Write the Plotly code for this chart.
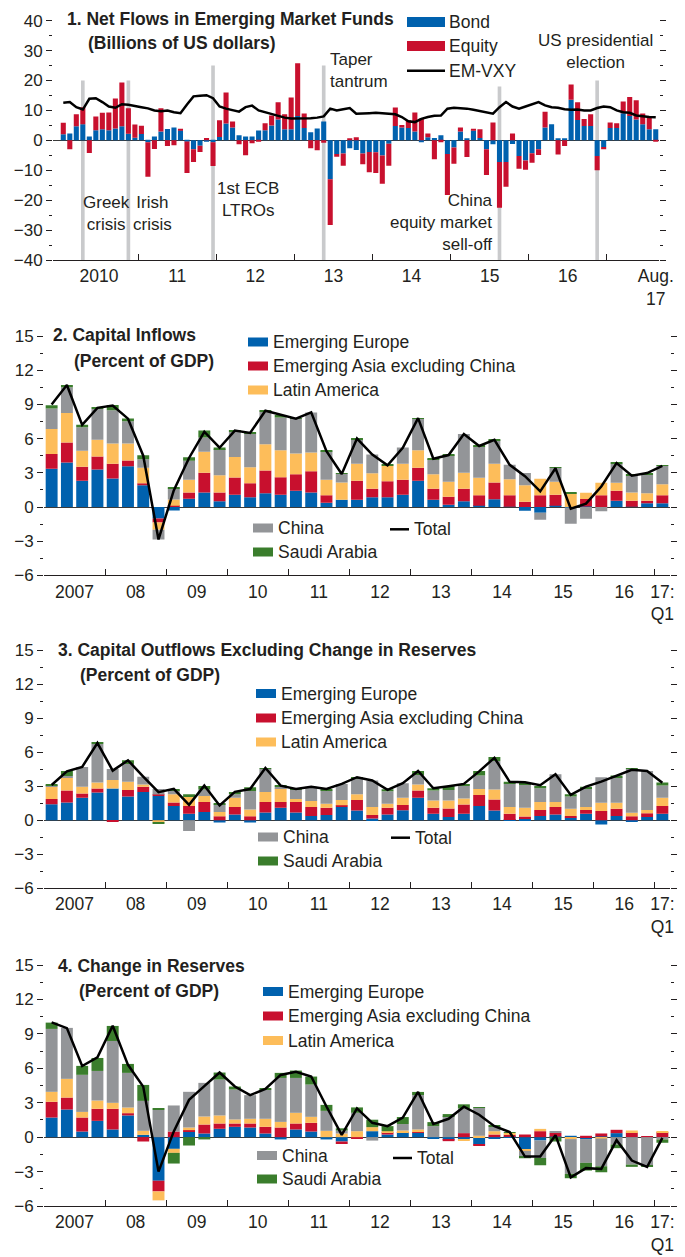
import numpy as np
import pandas as pd
import plotly.graph_objects as go

# ---------------- panel 1: monthly net flows, Jan 2010 - Aug 2017 (billions of US dollars)
months = pd.period_range('2010-01', '2017-08', freq='M')
bond = [2.0, 2.3, 4.7, 5.4, 1.3, 3.4, 3.7, 3.4, 4.0, 4.7, 2.2, 0.9,
        2.1, -0.6, 1.3, 3.0, 3.8, 4.3, 3.4, -0.4, -3.0, -1.8, -0.3, -0.6,
        1.1, 5.6, 4.3, 1.7, 1.3, 1.3, 3.3, 3.4, 5.0, 7.0, 3.7, 3.7,
        8.1, 4.1, 2.7, 4.0, 6.3, -13.0, -4.6, -4.4, -2.6, -3.2, -4.4, -3.9,
        -4.0, -5.1, -1.1, 4.8, 4.3, 4.1, 3.0, -0.6, 1.0, 0.8, 1.7, -4.6,
        -2.4, 3.0, 0.7, 3.3, 0.8, -3.0, -1.3, -7.2, -7.2, -1.2, -5.2, -6.7,
        -4.3, -3.0, 4.3, 5.4, 0.7, 0.7, 13.6, 6.8, 4.8, 4.8, -5.2, -2.2,
        4.1, 4.1, 9.1, 8.1, 7.0, 5.4, 3.7, 3.7]
equity = [3.9, -3.0, 4.0, 5.7, -4.2, 4.6, 5.5, 5.9, 10.0, 14.6, 8.5, 4.4,
          2.8, -11.6, -2.9, 7.7, -1.9, -1.6, 0.4, -10.5, -4.2, -2.1, 0.8, -8.0,
          5.6, 10.4, 2.0, -1.3, -5.0, -1.0, -0.3, 2.3, 3.3, 5.7, 5.0, 10.6,
          17.7, 4.9, -2.6, -3.3, -0.8, -15.3, -0.9, -4.1, 0.7, 1.0, -3.6, -6.8,
          -6.9, -9.4, -7.4, 6.2, 0.8, 2.6, 6.3, 7.3, 1.3, -6.3, -0.6, -13.7,
          -5.4, 1.3, -5.6, 0.4, 2.9, -8.6, 6.0, -15.3, -8.3, 2.3, -4.3, -3.1,
          -3.2, -1.9, 5.3, 0.0, -4.7, -1.9, 5.1, 5.9, 2.3, 3.9, -4.8, -0.8,
          1.9, 1.6, 3.9, 6.4, 6.4, 3.6, 3.8, -0.4]
emvxy = [12.6, 12.8, 11.1, 10.3, 13.9, 14.1, 12.8, 11.3, 10.9, 12.1, 11.9, 11.6,
         11.1, 10.7, 10.0, 9.7, 10.0, 9.4, 9.1, 12.0, 14.7, 14.9, 15.1, 14.1,
         11.3, 10.6, 10.0, 9.6, 11.1, 11.6, 10.0, 9.4, 8.6, 8.0, 7.6, 7.3,
         7.3, 7.4, 7.4, 7.6, 8.0, 10.6, 10.0, 10.4, 10.8, 8.9, 8.9, 9.1,
         9.2, 9.1, 8.9, 8.7, 7.8, 6.4, 6.1, 7.2, 7.8, 8.2, 8.3, 10.6,
         10.9, 10.8, 10.6, 10.2, 9.7, 9.3, 8.9, 11.1, 12.8, 11.3, 10.6, 11.3,
         12.0, 12.8, 11.7, 11.1, 10.9, 10.4, 10.2, 10.3, 10.0, 10.0, 10.8, 11.3,
         11.1, 10.0, 9.4, 9.2, 8.3, 8.0, 7.8, 7.7]
event_months = ['2010-04', '2010-11', '2011-12', '2013-05', '2015-08', '2016-11']
event_tops = [20, 20, 25, 25, 18, 20]
years1 = ['2010', '11', '12', '13', '14', '15', '16', 'Aug.<br>17']

# ---------------- panels 2-4: quarterly, 2007:Q1 - 2017:Q1 (percent of GDP)
quarters = pd.period_range('2007Q1', '2017Q1', freq='Q')
years2 = ['2007', '08', '09', '10', '11', '12', '13', '14', '15', '16', '17:<br>Q1']

inflows = dict(
    europe=[3.35, 3.9, 2.3, 3.3, 2.49, 3.57, 1.9, -1.0, -0.3, 0.72, 1.28, 0.5, 1.08, 0.85, 1.2, 1.08,
            1.43, 1.28, 0.38, 0.64, 0.64, 0.85, 0.85, 1.08, 2.3, 0.64, 0.2, 0.5, 0.12, 0.67, 0.02, -0.32,
            -0.5, 0.12, -0.05, 0.05, 0.0, 0.55, 0.02, 0.32, 0.32],
    asia=[1.3, 1.75, 1.24, 1.12, 1.31, 0.5, 0.18, -0.35, 0.1, 0.56, 1.72, 0.78, 1.5, 1.23, 2.0, 1.52,
          1.44, 1.85, 0.64, 0.0, 1.66, 0.75, 1.4, 1.32, 1.15, 0.96, 0.7, 1.1, 0.9, 1.49, 1.0, 0.47,
          1.02, 0.96, 0.0, 0.65, 1.02, 0.88, 0.53, 0.23, 0.7],
    latam=[2.2, 2.6, 1.4, 1.48, 1.76, 1.5, 1.37, -0.65, 0.55, 1.12, 1.85, 1.5, 1.8, 1.4, 2.3, 2.37,
           1.83, 1.64, 1.38, 1.5, 1.5, 1.35, 1.4, 1.4, 1.52, 1.27, 1.32, 1.4, 1.55, 1.64, 1.41, 1.43,
           1.46, 1.14, 1.2, 0.56, 1.11, 0.7, 0.73, 0.65, 0.98],
    china=[1.8, 2.25, 2.05, 2.7, 2.92, 1.95, 0.73, -0.85, 1.0, 1.66, 1.25, 2.3, 2.25, 2.98, 2.86, 2.87,
           3.05, 3.53, 2.48, 0.76, 2.16, 1.65, 0.0, 1.43, 2.75, 1.33, 2.34, 3.4, 2.75, 2.05, 1.28, 1.08,
           -0.62, 1.23, -1.43, -1.02, -0.38, 1.67, 1.44, 1.67, 1.63],
    saudi=[0.27, 0.2, 0.23, 0.14, 0.47, 0.24, 0.35, 0.0, 0.1, 0.3, 0.6, 0.15, 0.08, 0.06, 0.12, 0.23,
           0.05, 0.0, 0.12, 0.02, 0.06, 0.0, 0.05, 0.0, 0.08, 0.04, 0.06, 0.0, 0.06, 0.08, 0.0, 0.0,
           0.0, 0.05, 0.06, 0.0, 0.0, 0.12, 0.1, 0.11, 0.05],
    total=[9.0, 10.7, 7.2, 8.7, 8.9, 7.75, 4.5, -2.85, 1.45, 4.3, 6.6, 5.2, 6.7, 6.5, 8.45, 8.1,
           7.75, 8.3, 4.9, 2.9, 6.0, 4.6, 3.65, 5.2, 7.8, 4.24, 4.56, 6.4, 5.35, 5.9, 3.7, 2.7,
           1.37, 3.4, -0.15, 0.3, 1.8, 3.85, 2.75, 2.98, 3.6],
)
outflows = dict(
    europe=[1.41, 1.56, 1.97, 2.44, 2.79, 2.08, 2.49, 2.14, 1.26, 0.56, 0.73, -0.2, 0.5, -0.2, 0.67, 1.09,
            0.67, 0.38, 0.47, 1.17, 0.85, 0.15, 0.5, 0.88, 1.97, 0.56, 0.29, 0.56, 1.26, 0.85, 0.02, 0.15,
            0.38, 0.5, 0.21, 0.56, -0.38, 0.38, -0.15, 0.29, 0.56],
    asia=[0.47, 1.05, 0.38, 0.35, -0.12, 0.59, 0.45, 0.12, 0.3, 0.7, 0.88, 0.35, 0.67, 0.35, 0.94, 0.52,
          0.94, 0.79, 0.62, 0.15, 0.94, 0.32, 0.59, 0.47, 0.64, 0.53, 0.74, 0.82, 0.97, 0.97, 0.54, 0.17,
          0.53, 0.67, 0.17, 0.35, 0.82, 0.62, 0.35, 0.33, 0.7],
    latam=[1.06, 1.12, 0.59, 0.53, 0.76, 0.71, 0.2, -0.2, 0.73, 0.79, 0.53, 0.38, 0.8, 0.59, 0.88, 1.18,
           0.27, 0.53, 0.35, 0.47, 0.5, 0.7, 0.35, 0.62, 0.53, 0.64, 0.7, 0.53, 0.53, 0.88, 0.61, 0.77,
           0.7, 0.44, 0.62, 0.26, 0.71, 0.53, 0.3, 0.29, 0.71],
    china=[0.1, 0.17, 1.76, 3.4, 0.97, 1.58, 0.68, 0.5, 0.35, -0.94, 0.56, 0.68, 0.32, 1.64, 2.03, 0.17,
           0.79, 1.24, 1.2, 1.41, 1.38, 2.32, 1.11, 1.29, 0.85, 0.88, 0.94, 1.11, 1.17, 2.52, 2.06, 2.08,
           1.21, 2.44, 1.08, 1.65, 2.26, 2.23, 3.87, 3.43, 1.08],
    saudi=[0.15, 0.44, 0.0, 0.12, 0.0, 0.32, 0.0, -0.08, 0.12, 0.24, 0.32, 0.09, 0.2, 0.32, 0.08, 0.15,
           0.15, 0.0, 0.12, 0.0, 0.1, 0.0, 0.18, 0.0, 0.35, 0.21, 0.35, 0.15, 0.41, 0.36, 0.15, 0.09,
           0.2, 0.0, 0.21, 0.14, 0.0, 0.17, 0.08, 0.0, 0.27],
    total=[3.1, 4.3, 4.7, 6.8, 4.37, 5.28, 3.85, 2.47, 2.76, 1.35, 3.05, 1.3, 2.5, 2.75, 4.6, 3.05,
           2.76, 2.94, 2.76, 3.2, 3.79, 3.5, 2.67, 3.26, 4.34, 2.82, 3.0, 3.2, 4.3, 5.5, 3.38, 3.35,
           3.08, 4.05, 2.23, 2.96, 3.4, 3.93, 4.45, 4.34, 3.3],
)
reserves = dict(
    europe=[1.71, 2.41, 0.49, 1.42, 0.67, 1.89, 0.2, -3.8, -1.02, 0.49, 0.32, 0.73, 0.9, 0.84, 0.32, -0.2,
            0.67, 0.49, -0.2, -0.38, 0.0, 0.52, 0.23, 0.38, 0.38, -0.12, -0.23, -0.17, -0.64, -0.12, 0.02, -1.08,
            -0.29, 0.05, 0.12, -0.17, 0.06, 0.35, 0.0, 0.0, 0.0],
    asia=[1.37, 1.04, 1.22, 1.05, 1.8, 0.2, -0.38, -0.93, 0.49, 0.12, 0.78, 0.46, 0.29, 0.35, 0.58, 0.84,
          0.52, 0.76, 0.0, -0.22, -0.1, 0.0, 0.21, 0.05, 0.06, 0.0, -0.12, 0.35, -0.09, 0.23, 0.2, 0.23,
          0.52, 0.32, 0.0, 0.12, 0.26, 0.29, 0.41, 0.05, 0.44],
    latam=[0.87, 1.63, 0.49, 0.72, 0.52, 0.49, 0.35, -0.78, -0.35, 0.23, 0.7, 0.7, 0.35, 0.41, 0.7, 0.49,
           0.93, 0.52, 0.55, 0.32, 0.52, 0.35, 0.08, 0.15, 0.23, 0.0, 0.0, -0.09, 0.12, 0.29, 0.15, -0.12,
           0.2, 0.0, -0.17, 0.0, -0.12, 0.0, 0.17, 0.0, 0.06],
    china=[5.48, 4.44, 3.23, 2.58, 5.39, 3.02, 2.61, 2.38, 2.27, 3.11, 2.93, 3.13, 2.61, 2.06, 2.55, 3.83,
           3.04, 2.81, 1.74, 0.25, 1.6, -0.3, 0.0, 0.56, 3.0, 0.96, 1.84, 2.15, 2.42, 0.38, 0.0, -0.47,
           -1.52, 0.15, -3.03, -2.07, -2.42, -0.64, -2.39, -2.45, -0.2],
    saudi=[0.55, 0.0, 0.78, 1.13, 1.31, 0.78, 1.39, 0.09, -0.93, -0.73, -0.2, 0.61, 0.26, 0.0, 0.05, 0.44,
           0.64, 0.7, 0.52, 0.2, 0.47, 0.65, 0.44, 0.61, 0.27, 0.35, 0.17, 0.36, 0.06, 0.12, 0.07, -0.17,
           -0.64, -0.38, -0.38, -0.67, -0.52, -0.32, -0.2, -0.15, -0.29],
    total=[10.0, 9.5, 6.2, 6.96, 9.7, 6.3, 4.4, -3.0, 0.5, 3.25, 4.45, 5.63, 4.41, 3.66, 4.2, 5.42,
           5.7, 5.28, 2.67, 0.2, 2.5, 1.25, 0.96, 1.7, 3.94, 1.14, 1.6, 2.65, 1.95, 0.96, 0.44, -1.69,
           -1.69, 0.17, -3.5, -2.7, -2.77, -0.26, -2.04, -2.6, -0.06],
)

BLUE, RED, YELLOW, GREY, GREEN = '#0061AE', '#C8102E', '#FDBD5A', '#939598', '#3A7D2C'
EVENT = '#C9CACC'
INK = '#231F20'
FONT = 'Liberation Sans, Arial, Helvetica, sans-serif'
W, H = 685, 1257


def fx(p):
    return p / W


def fy(p):
    return 1 - p / H


fig = go.Figure()

# panel 1 traces
x1 = np.arange(len(months))
fig.add_trace(go.Bar(x=x1, y=bond, marker=dict(color=BLUE, line_width=0), xaxis='x', yaxis='y'))
fig.add_trace(go.Bar(x=x1, y=equity, marker=dict(color=RED, line_width=0), xaxis='x', yaxis='y'))
fig.add_trace(go.Scatter(x=x1, y=emvxy, mode='lines', line=dict(color='black', width=2.5),
                         xaxis='x', yaxis='y'))

# panels 2-4 traces
x2 = np.arange(len(quarters))
series = [('europe', BLUE), ('asia', RED), ('latam', YELLOW), ('china', GREY), ('saudi', GREEN)]
for k, data in enumerate([inflows, outflows, reserves], start=2):
    for key, col in series:
        fig.add_trace(go.Bar(x=x2, y=data[key], marker=dict(color=col, line_width=0),
                             xaxis=f'x{k}', yaxis=f'y{k}'))
    fig.add_trace(go.Scatter(x=x2, y=data['total'], mode='lines',
                             line=dict(color='black', width=2.5), xaxis=f'x{k}', yaxis=f'y{k}'))

# event bars in panel 1
month_pos = {str(m): i for i, m in enumerate(months)}
shapes = []
for m, top in zip(event_months, event_tops):
    i = month_pos[m]
    shapes.append(dict(type='rect', xref='x', yref='y', x0=i - 0.28, x1=i + 0.28, y0=-40, y1=top,
                       fillcolor=EVENT, line_width=0, layer='below'))


def xaxis_style(domain, rng, centers, labels, bounds, anchor):
    return dict(domain=domain, range=rng, anchor=anchor, automargin=False,
                showline=True, linecolor=INK, linewidth=1.3,
                showgrid=False, zeroline=False, ticks='', tickvals=centers, ticktext=labels,
                tickfont=dict(family=FONT, size=17.5, color=INK), fixedrange=True,
                minor=dict(tickmode='array', tickvals=bounds, ticks='inside', ticklen=6,
                           tickwidth=1.3, tickcolor=INK, showgrid=False))


def yaxis_style(domain, rng, step, anchor):
    vals = np.arange(rng[0], rng[1] + step / 2, step)
    text = [f'{v:g}'.replace('-', '\u2212') for v in vals]
    return dict(domain=domain, range=rng, anchor=anchor, automargin=False,
                showline=False, showgrid=False,
                zeroline=True, zerolinecolor='#3a3a3a', zerolinewidth=1.2,
                ticks='outside', ticklen=6, tickwidth=1.2, tickcolor=INK, mirror='ticks',
                tickvals=vals, ticktext=text, tickfont=dict(family=FONT, size=17, color=INK),
                fixedrange=True,
                minor=dict(tickmode='linear', tick0=rng[0], dtick=step / 2, ticks='outside',
                           ticklen=3, tickwidth=1.2, tickcolor=INK, showgrid=False))


centers1 = [5.5 + 12 * k for k in range(7)] + [len(months) - 1]
bounds1 = [11.5 + 12 * k for k in range(7)]
centers2 = [1.5 + 4 * k for k in range(10)] + [len(quarters) - 1]
bounds2 = [3.5 + 4 * k for k in range(10)]

layout_axes = dict(
    xaxis=xaxis_style([fx(53), fx(659)], [-1.58, 91.5], centers1, years1, bounds1, 'y'),
    yaxis=yaxis_style([fy(260), fy(20.7)], [-40, 40], 10, 'x'),
)
panel_y = {2: (575.4, 336), 3: (888.3, 650), 4: (1206, 965)}
for k, (bot, top) in panel_y.items():
    layout_axes[f'xaxis{k}'] = xaxis_style([fx(44), fx(670)], [-0.5, 40.5], centers2, years2, bounds2, f'y{k}')
    layout_axes[f'yaxis{k}'] = yaxis_style([fy(bot), fy(top)], [-6, 15], 3, f'x{k}')

# text annotations
ann = []


def text(s, x, y, bold=False, size=17.5, xanchor='left', align='left'):
    ann.append(dict(text=f'<b>{s}</b>' if bold else s, x=fx(x), y=fy(y), xref='paper', yref='paper',
                    xanchor=xanchor, yanchor='middle', align=align, showarrow=False,
                    font=dict(family=FONT, size=size, color=INK)))


def swatch(x0, x1, yc, color, h=9):
    shapes.append(dict(type='rect', xref='paper', yref='paper', x0=fx(x0), x1=fx(x1),
                       y0=fy(yc + h / 2), y1=fy(yc - h / 2), fillcolor=color, line_width=0))


def linekey(x0, x1, yc):
    shapes.append(dict(type='line', xref='paper', yref='paper', x0=fx(x0), x1=fx(x1),
                       y0=fy(yc), y1=fy(yc), line=dict(color='black', width=2.5)))


# panel 1 titles, legend, event notes
text('1. Net Flows in Emerging Market Funds', 65, 18.5, bold=True)
text('(Billions of US dollars)', 86, 43, bold=True)
swatch(407, 445, 22, BLUE, 10)
text('Bond', 447, 22)
swatch(407, 445, 46, RED, 10)
text('Equity', 447, 46)
linekey(407, 445, 70.7)
text('EM-VXY', 447, 71)
text('Greek<br>crisis', 106, 213.5, size=17, xanchor='center', align='center')
text('Irish<br>crisis', 152.5, 213.5, size=17, xanchor='center', align='center')
text('1st ECB<br>LTROs', 248, 199, size=17, xanchor='center', align='center')
text('Taper<br>tantrum', 328, 71, size=17)
text('US presidential<br>election', 595, 51.5, size=17, xanchor='center', align='center')
text('China<br>equity market<br>sell-off', 495, 222.5, size=17, xanchor='right', align='right')

# panels 2-4 titles and legends
titles = {2: ('2. Capital Inflows', 51, 335, 72, 360.5),
          3: ('3. Capital Outflows Excluding Change in Reserves', 56, 650, 78, 675),
          4: ('4. Change in Reserves', 56, 966, 77, 991)}
legend_top = {2: (248, 268, [342, 366, 390]), 3: (256, 276, [693.5, 718, 742]),
              4: (263, 283, [991.5, 1016, 1040.5])}
legend_low = {2: (253, 273, [528, 552], 390, 409, 529.3),
              3: (258, 278, [837, 861], 391, 410, 837.7),
              4: (257, 277, [1155.5, 1179], 393, 412, 1158)}
names_top = ['Emerging Europe', 'Emerging Asia excluding China', 'Latin America']
for k in (2, 3, 4):
    t, tx, ty, sx, sy = titles[k]
    text(t, tx, ty, bold=True)
    text('(Percent of GDP)', sx, sy, bold=True)
    a, b, ys = legend_top[k]
    for name, col, yc in zip(names_top, [BLUE, RED, YELLOW], ys):
        swatch(a, b, yc, col)
        text(name, b + 3, yc)
    a, b, ys, la, lb, ly = legend_low[k]
    for name, col, yc in zip(['China', 'Saudi Arabia'], [GREY, GREEN], ys):
        swatch(a, b, yc, col)
        text(name, b + 3, yc)
    linekey(la, lb, ly)
    text('Total', lb + 3, ly)

fig.update_layout(
    width=W, height=H, margin=dict(l=0, r=0, t=0, b=0, autoexpand=False),
    paper_bgcolor='white', plot_bgcolor='white',
    barmode='relative', bargap=0.22, showlegend=False,
    font=dict(family=FONT, color=INK),
    shapes=shapes, annotations=ann,
    **layout_axes,
)

fig.write_html('out.html', config={'displayModeBar': False},
               post_script="document.body.style.margin='0';")
